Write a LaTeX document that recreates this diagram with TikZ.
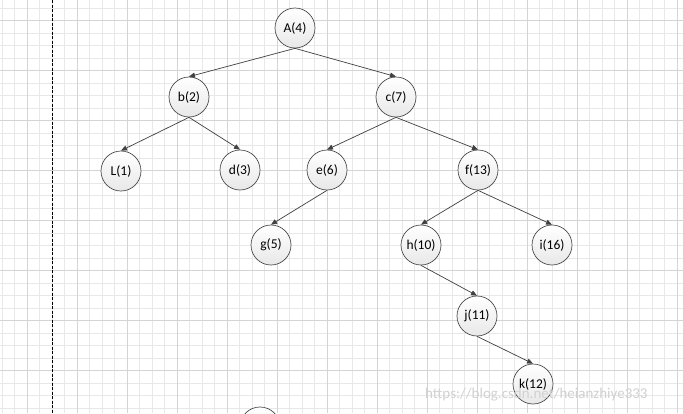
\documentclass[tikz,border=0pt]{standalone}
\usepackage{fontspec}
\setmainfont{Carlito}
\usetikzlibrary{arrows.meta}
\begin{document}
\begin{tikzpicture}[x=1pt,y=-1pt,
  tnode/.style={circle,draw=black!70,line width=0.7pt,minimum size=40pt,inner sep=0pt,
    top color=white,bottom color=black!9,font=\fontsize{13.5}{15}\selectfont},
  edge/.style={draw=black!75,line width=0.7pt,-{Triangle[length=6pt,width=5pt]}},
  minorgrid/.style={draw=black!9,line width=0.6pt},
  majorgrid/.style={draw=black!17,line width=0.6pt}]
\clip (0,0) rectangle (683,413);
\fill[white] (0,0) rectangle (683,413);
% grid
\foreach \i in {0,...,54} {\draw[minorgrid] ({2+12.5*\i},0) -- ({2+12.5*\i},413);}
\foreach \i in {0,...,33} {\draw[minorgrid] (0,{-4.5+12.5*\i}) -- (683,{-4.5+12.5*\i});}
\foreach \i in {0,...,13} {\draw[majorgrid] ({27+50*\i},0) -- ({27+50*\i},413);}
\foreach \i in {0,...,8} {\draw[majorgrid] (0,{20.5+50*\i}) -- (683,{20.5+50*\i});}
% dashed separator
\coordinate (sepT) at (52,0);
\coordinate (sepB) at (52,413);
\draw[black,line width=1pt,dash pattern=on 3pt off 1.5pt] (sepT) -- (sepB);
% nodes
\node[tnode] (A) at (295,28) {A(4)};
\node[tnode] (b) at (189,97) {b(2)};
\node[tnode] (c) at (396,97) {c(7)};
\node[tnode] (L) at (121,171) {L(1)};
\node[tnode] (d) at (240,170) {d(3)};
\node[tnode] (e) at (327,170) {e(6)};
\node[tnode] (f) at (478,170) {f(13)};
\node[tnode] (g) at (271,245) {g(5)};
\node[tnode] (h) at (421,245) {h(10)};
\node[tnode] (i) at (552,245) {i(16)};
\node[tnode] (j) at (477,316) {j(11)};
\node[tnode] (k) at (533,384) {k(12)};
\node[tnode] (m) at (260,427) {};
% edges
\draw[edge] (A.south) -- (b.north);
\draw[edge] (A.south) -- (c.north);
\draw[edge] (b.south) -- (L.north);
\draw[edge] (b.south) -- (d.north);
\draw[edge] (c.south) -- (e.north);
\draw[edge] (c.south) -- (f.north);
\draw[edge] (e.south) -- (g.north);
\draw[edge] (f.south) -- (h.north);
\draw[edge] (f.south) -- (i.north);
\draw[edge] (h.south) -- (j.north);
\draw[edge] (j.south) -- (k.north);
% watermark
\node[text=black!18,font=\fontsize{15}{17}\selectfont,anchor=west,inner sep=0pt] (wm) at (425,395) {https://blog.csdn.net/heianzhiye333};
\end{tikzpicture}
\end{document}
